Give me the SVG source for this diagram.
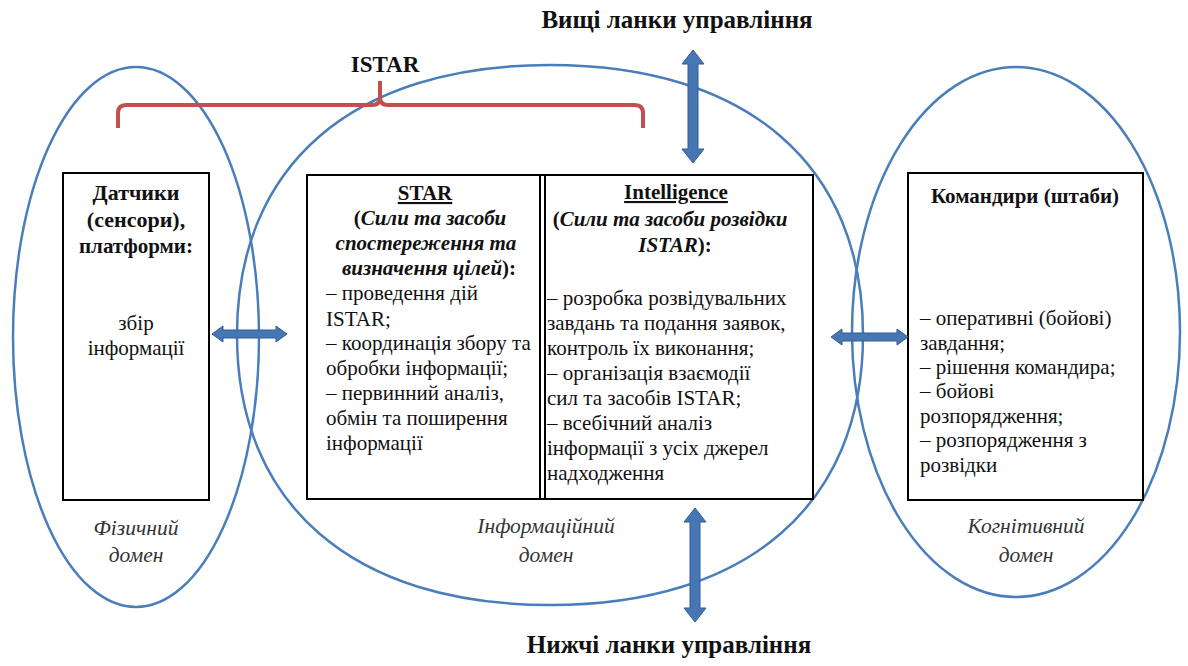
<svg xmlns="http://www.w3.org/2000/svg" width="1188" height="666" viewBox="0 0 1188 666">
<style>
  .dom { fill: none; stroke: #4a7ebb; stroke-width: 2.5; }
  .box { fill: #ffffff; stroke: #000000; stroke-width: 2; }
  .t, .h, .title, .lab { font-family: "Liberation Serif", "Times New Roman", "DejaVu Serif", serif; fill: #111111; }
  .t { font-size: 21px; }
  .h { font-size: 21px; font-weight: bold; }
  .bi { font-style: italic; }
  .u { text-decoration: underline; }
  .c { text-anchor: middle; }
  .title { font-size: 25px; font-weight: bold; text-anchor: middle; }
  .lab { font-size: 21.5px; font-style: italic; fill: #333333; text-anchor: middle; }
  .arr { fill: #4676b4; stroke: #2f5c94; stroke-width: 1; }
  .brace { fill: none; stroke: #c0504d; stroke-width: 4; stroke-linejoin: round; }
</style>

<g id="domains">
  <ellipse id="physical-domain" class="dom" cx="136" cy="337" rx="123" ry="270"/>
  <path id="information-domain" class="dom" d="M863,335 C863,164.9 747.2,65 550,65 C352.8,65 237,164.9 237,335 C237,505.1 352.8,605 550,605 C747.2,605 863,505.1 863,335 Z"/>
  <ellipse id="cognitive-domain" class="dom" cx="1016" cy="332" rx="164" ry="265"/>
</g>

<g id="istar-brace">
  <path class="brace" d="M118,128 V113 Q118,105 126,105 H372 Q380,105 380,97 V81 M380,97 Q380,105 388,105 H635 Q643,105 643,113 V128"/>
  <text class="title" x="385" y="72" style="font-size:23px">ISTAR</text>
</g>

<g id="sensors">
  <rect class="box" x="63" y="173" width="146" height="327"/>
  <text class="h c" x="136" y="200" style="font-size:22px">Датчики</text>
  <text class="h c" x="136" y="227" style="font-size:22px">(сенсори),</text>
  <text class="h c" x="136" y="253">платформи:</text>
  <text class="t c" x="136" y="330">збір</text>
  <text class="t c" x="136" y="355">інформації</text>
</g>

<g id="star-intelligence">
  <rect class="box" x="307" y="175" width="506" height="324"/>
  <line x1="540" y1="175" x2="540" y2="499" stroke="#000" stroke-width="2"/>
  <line x1="545" y1="175" x2="545" y2="499" stroke="#000" stroke-width="2"/>
</g>

<g id="star">
  <text class="h c u" x="425" y="200">STAR</text>
  <text class="h c" x="430" y="225">(<tspan class="bi">Сили та засоби</tspan></text>
  <text class="h c bi" x="426" y="250">спостереження та</text>
  <text class="h c" x="429" y="275"><tspan class="bi">визначення цілей</tspan>):</text>
  <text class="t" x="326" y="300">– проведення дій</text>
  <text class="t" x="326" y="326">ISTAR;</text>
  <text class="t" x="326" y="350">– координація збору та</text>
  <text class="t" x="326" y="375">обробки інформації;</text>
  <text class="t" x="326" y="400">– первинний аналіз,</text>
  <text class="t" x="326" y="425">обмін та поширення</text>
  <text class="t" x="326" y="450">інформації</text>
</g>

<g id="intelligence">
  <text class="h c u" x="676" y="199">Intelligence</text>
  <text class="h c" x="670" y="226">(<tspan class="bi">Сили та засоби розвідки</tspan></text>
  <text class="h c" x="675" y="252"><tspan class="bi">ISTAR</tspan>):</text>
  <text class="t" x="547" y="305">– розробка розвідувальних</text>
  <text class="t" x="547" y="330">завдань та подання заявок,</text>
  <text class="t" x="547" y="355">контроль їх  виконання;</text>
  <text class="t" x="547" y="380">– організація  взаємодії</text>
  <text class="t" x="547" y="405">сил та засобів ISTAR;</text>
  <text class="t" x="547" y="430">– всебічний аналіз</text>
  <text class="t" x="547" y="455">інформації з усіх джерел</text>
  <text class="t" x="547" y="480">надходження</text>
</g>

<g id="commanders">
  <rect class="box" x="908" y="173" width="235" height="327"/>
  <text class="h c" x="1025" y="203">Командири (штаби)</text>
  <text class="t" x="920" y="325">– оперативні (бойові)</text>
  <text class="t" x="920" y="350">завдання;</text>
  <text class="t" x="920" y="374">– рішення командира;</text>
  <text class="t" x="920" y="398">– бойові</text>
  <text class="t" x="920" y="423">розпорядження;</text>
  <text class="t" x="920" y="447">– розпорядження з</text>
  <text class="t" x="920" y="472">розвідки</text>
</g>

<g id="labels">
  <text class="lab" x="136" y="535">Фізичний</text>
  <text class="lab" x="136" y="562">домен</text>
  <text class="lab" x="546" y="533">Інформаційний</text>
  <text class="lab" x="546" y="562">домен</text>
  <text class="lab" x="1026" y="533">Когнітивний</text>
  <text class="lab" x="1026" y="562">домен</text>
</g>

<g id="upper-levels">
  <text class="title" x="677" y="28">Вищі ланки управління</text>
</g>
<g id="lower-levels">
  <text class="title" x="669" y="653">Нижчі ланки управління</text>
</g>

<g id="connectors">
  <polygon class="arr" points="693,50 704,64 698,64 698,149 704,149 693,163 682,149 688,149 688,64 682,64"/>
  <polygon class="arr" points="695,508 706,522 700,522 700,608 706,608 695,622 684,608 690,608 690,522 684,522"/>
  <polygon class="arr" points="212,334 223,326 223,330 276,330 276,326 287,334 276,342 276,338 223,338 223,342"/>
  <polygon class="arr" points="831,337 842,329 842,333 897,333 897,329 908,337 897,345 897,341 842,341 842,345"/>
</g>
</svg>
